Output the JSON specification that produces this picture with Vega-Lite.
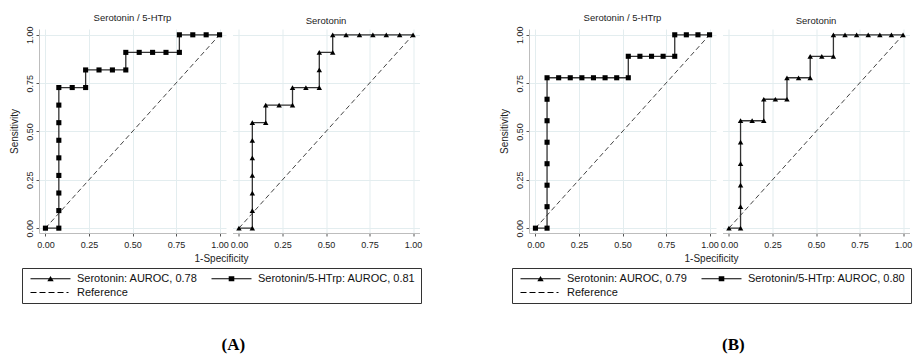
{
  "$schema": "https://vega.github.io/schema/vega-lite/v6.json",
  "background": "white",
  "padding": {"left": 9, "top": 12, "right": 2, "bottom": 2},
  "config": {
    "font": "Liberation Sans",
    "view": {"stroke": null},
    "axis": {
      "labelFontSize": 9, "labelColor": "#222", "titleFontSize": 10, "titleColor": "#222", "titleFontWeight": "normal",
      "domainColor": "#bdbdbd", "tickColor": "#555", "tickSize": 3, "gridColor": "#e3edef", "gridWidth": 1,
      "labelPadding": 4
    },
    "title": {"fontSize": 9.5, "fontWeight": "normal", "color": "#222", "offset": 4},
    "legend": {
      "orient": "none", "direction": "horizontal", "columns": 2, "columnPadding": 10, "rowPadding": 2, "padding": 5,
      "strokeColor": "#333", "labelFontSize": 11, "labelColor": "#111", "labelOffset": 39,
      "symbolSize": 16, "labelLimit": 400, "title": null,
      "symbolStrokeColor": "#000", "symbolFillColor": "#000", "symbolStrokeWidth": 0, "symbolOpacity": 1
    }
  },
  "datasets": {
    "ref": [{"fpr": 0, "tpr": 0}, {"fpr": 1, "tpr": 1}],
    "legA": [{"entry": "Serotonin: AUROC, 0.78"}, {"entry": "Serotonin/5-HTrp: AUROC, 0.81"}, {"entry": "Reference"}],
    "legB": [{"entry": "Serotonin: AUROC, 0.79"}, {"entry": "Serotonin/5-HTrp: AUROC, 0.80"}, {"entry": "Reference"}],
    "roc": [
      {"panel": "A1", "fpr": 0, "tpr": 0},
      {"panel": "A1", "fpr": 0.0769, "tpr": 0},
      {"panel": "A1", "fpr": 0.0769, "tpr": 0.0909},
      {"panel": "A1", "fpr": 0.0769, "tpr": 0.1818},
      {"panel": "A1", "fpr": 0.0769, "tpr": 0.2727},
      {"panel": "A1", "fpr": 0.0769, "tpr": 0.3636},
      {"panel": "A1", "fpr": 0.0769, "tpr": 0.4545},
      {"panel": "A1", "fpr": 0.0769, "tpr": 0.5455},
      {"panel": "A1", "fpr": 0.0769, "tpr": 0.6364},
      {"panel": "A1", "fpr": 0.0769, "tpr": 0.7273},
      {"panel": "A1", "fpr": 0.1538, "tpr": 0.7273},
      {"panel": "A1", "fpr": 0.2308, "tpr": 0.7273},
      {"panel": "A1", "fpr": 0.2308, "tpr": 0.8182},
      {"panel": "A1", "fpr": 0.3077, "tpr": 0.8182},
      {"panel": "A1", "fpr": 0.3846, "tpr": 0.8182},
      {"panel": "A1", "fpr": 0.4615, "tpr": 0.8182},
      {"panel": "A1", "fpr": 0.4615, "tpr": 0.9091},
      {"panel": "A1", "fpr": 0.5385, "tpr": 0.9091},
      {"panel": "A1", "fpr": 0.6154, "tpr": 0.9091},
      {"panel": "A1", "fpr": 0.6923, "tpr": 0.9091},
      {"panel": "A1", "fpr": 0.7692, "tpr": 0.9091},
      {"panel": "A1", "fpr": 0.7692, "tpr": 1},
      {"panel": "A1", "fpr": 0.8462, "tpr": 1},
      {"panel": "A1", "fpr": 0.9231, "tpr": 1},
      {"panel": "A1", "fpr": 1, "tpr": 1},
      {"panel": "A2", "fpr": 0, "tpr": 0},
      {"panel": "A2", "fpr": 0.0769, "tpr": 0},
      {"panel": "A2", "fpr": 0.0769, "tpr": 0.0909},
      {"panel": "A2", "fpr": 0.0769, "tpr": 0.1818},
      {"panel": "A2", "fpr": 0.0769, "tpr": 0.2727},
      {"panel": "A2", "fpr": 0.0769, "tpr": 0.3636},
      {"panel": "A2", "fpr": 0.0769, "tpr": 0.4545},
      {"panel": "A2", "fpr": 0.0769, "tpr": 0.5455},
      {"panel": "A2", "fpr": 0.1538, "tpr": 0.5455},
      {"panel": "A2", "fpr": 0.1538, "tpr": 0.6364},
      {"panel": "A2", "fpr": 0.2308, "tpr": 0.6364},
      {"panel": "A2", "fpr": 0.3077, "tpr": 0.6364},
      {"panel": "A2", "fpr": 0.3077, "tpr": 0.7273},
      {"panel": "A2", "fpr": 0.3846, "tpr": 0.7273},
      {"panel": "A2", "fpr": 0.4615, "tpr": 0.7273},
      {"panel": "A2", "fpr": 0.4615, "tpr": 0.8182},
      {"panel": "A2", "fpr": 0.4615, "tpr": 0.9091},
      {"panel": "A2", "fpr": 0.5385, "tpr": 0.9091},
      {"panel": "A2", "fpr": 0.5385, "tpr": 1},
      {"panel": "A2", "fpr": 0.6154, "tpr": 1},
      {"panel": "A2", "fpr": 0.6923, "tpr": 1},
      {"panel": "A2", "fpr": 0.7692, "tpr": 1},
      {"panel": "A2", "fpr": 0.8462, "tpr": 1},
      {"panel": "A2", "fpr": 0.9231, "tpr": 1},
      {"panel": "A2", "fpr": 1, "tpr": 1},
      {"panel": "B1", "fpr": 0, "tpr": 0},
      {"panel": "B1", "fpr": 0.0667, "tpr": 0},
      {"panel": "B1", "fpr": 0.0667, "tpr": 0.1111},
      {"panel": "B1", "fpr": 0.0667, "tpr": 0.2222},
      {"panel": "B1", "fpr": 0.0667, "tpr": 0.3333},
      {"panel": "B1", "fpr": 0.0667, "tpr": 0.4444},
      {"panel": "B1", "fpr": 0.0667, "tpr": 0.5556},
      {"panel": "B1", "fpr": 0.0667, "tpr": 0.6667},
      {"panel": "B1", "fpr": 0.0667, "tpr": 0.7778},
      {"panel": "B1", "fpr": 0.1333, "tpr": 0.7778},
      {"panel": "B1", "fpr": 0.2, "tpr": 0.7778},
      {"panel": "B1", "fpr": 0.2667, "tpr": 0.7778},
      {"panel": "B1", "fpr": 0.3333, "tpr": 0.7778},
      {"panel": "B1", "fpr": 0.4, "tpr": 0.7778},
      {"panel": "B1", "fpr": 0.4667, "tpr": 0.7778},
      {"panel": "B1", "fpr": 0.5333, "tpr": 0.7778},
      {"panel": "B1", "fpr": 0.5333, "tpr": 0.8889},
      {"panel": "B1", "fpr": 0.6, "tpr": 0.8889},
      {"panel": "B1", "fpr": 0.6667, "tpr": 0.8889},
      {"panel": "B1", "fpr": 0.7333, "tpr": 0.8889},
      {"panel": "B1", "fpr": 0.8, "tpr": 0.8889},
      {"panel": "B1", "fpr": 0.8, "tpr": 1},
      {"panel": "B1", "fpr": 0.8667, "tpr": 1},
      {"panel": "B1", "fpr": 0.9333, "tpr": 1},
      {"panel": "B1", "fpr": 1, "tpr": 1},
      {"panel": "B2", "fpr": 0, "tpr": 0},
      {"panel": "B2", "fpr": 0.0667, "tpr": 0},
      {"panel": "B2", "fpr": 0.0667, "tpr": 0.1111},
      {"panel": "B2", "fpr": 0.0667, "tpr": 0.2222},
      {"panel": "B2", "fpr": 0.0667, "tpr": 0.3333},
      {"panel": "B2", "fpr": 0.0667, "tpr": 0.4444},
      {"panel": "B2", "fpr": 0.0667, "tpr": 0.5556},
      {"panel": "B2", "fpr": 0.1333, "tpr": 0.5556},
      {"panel": "B2", "fpr": 0.2, "tpr": 0.5556},
      {"panel": "B2", "fpr": 0.2, "tpr": 0.6667},
      {"panel": "B2", "fpr": 0.2667, "tpr": 0.6667},
      {"panel": "B2", "fpr": 0.3333, "tpr": 0.6667},
      {"panel": "B2", "fpr": 0.3333, "tpr": 0.7778},
      {"panel": "B2", "fpr": 0.4, "tpr": 0.7778},
      {"panel": "B2", "fpr": 0.4667, "tpr": 0.7778},
      {"panel": "B2", "fpr": 0.4667, "tpr": 0.8889},
      {"panel": "B2", "fpr": 0.5333, "tpr": 0.8889},
      {"panel": "B2", "fpr": 0.6, "tpr": 0.8889},
      {"panel": "B2", "fpr": 0.6, "tpr": 1},
      {"panel": "B2", "fpr": 0.6667, "tpr": 1},
      {"panel": "B2", "fpr": 0.7333, "tpr": 1},
      {"panel": "B2", "fpr": 0.8, "tpr": 1},
      {"panel": "B2", "fpr": 0.8667, "tpr": 1},
      {"panel": "B2", "fpr": 0.9333, "tpr": 1},
      {"panel": "B2", "fpr": 1, "tpr": 1}
    ]
  },
  "resolve": {"scale": {"x": "independent", "y": "independent", "shape": "independent"}},
  "spacing": 77,
  "hconcat": [
    {
      "title": {"text": "(A)", "orient": "bottom", "font": "Liberation Serif", "fontSize": 17, "fontWeight": "bold", "color": "#000", "offset": 33, "anchor": "middle", "dx": 18},
      "bounds": "flush",
      "spacing": 6.5,
      "resolve": {"scale": {"x": "independent", "y": "independent"}},
      "hconcat": [
        {
          "width": 187, "height": 204,
          "title": "Serotonin / 5-HTrp",
          "layer": [
            {
              "data": {"name": "ref"},
              "mark": {"type": "line", "strokeDash": [5, 3], "color": "#444", "strokeWidth": 1},
              "encoding": {
                "x": {"field": "fpr", "type": "quantitative", "scale": {"domain": [-0.037, 1.037], "nice": false, "zero": false},
                  "axis": {"values": [0, 0.25, 0.5, 0.75, 1], "format": ".2f", "title": "1-Specificity", "titleX": 182, "titlePadding": 4}},
                "y": {"field": "tpr", "type": "quantitative", "scale": {"domain": [-0.025, 1.03], "nice": false, "zero": false},
                  "axis": {"values": [0, 0.25, 0.5, 0.75, 1], "format": ".2f", "title": "Sensitivity", "labelAngle": -90, "labelPadding": 2, "titlePadding": 6}}
              }
            },
            {
              "data": {"name": "roc"},
              "transform": [{"filter": "datum.panel === 'A1'"}],
              "mark": {"type": "line", "color": "#333", "strokeWidth": 1.3},
              "encoding": {
                "x": {"field": "fpr", "type": "quantitative"},
                "y": {"field": "tpr", "type": "quantitative"},
                "order": [{"field": "fpr"}, {"field": "tpr"}]
              }
            },
            {
              "data": {"name": "roc"},
              "transform": [{"filter": "datum.panel === 'A1'"}],
              "mark": {"type": "point", "shape": "square", "filled": true, "color": "#000", "size": 26, "opacity": 1},
              "encoding": {
                "x": {"field": "fpr", "type": "quantitative"},
                "y": {"field": "tpr", "type": "quantitative"}
              }
            },
            {
              "data": {"name": "legA"},
              "mark": {"type": "point", "filled": true, "color": "#000", "opacity": 0, "size": 16},
              "encoding": {
                "shape": {"field": "entry", "type": "nominal",
                  "scale": {"domain": ["Serotonin: AUROC, 0.78", "Serotonin/5-HTrp: AUROC, 0.81", "Reference"],
                    "range": ["M-1,-0.3H19V0.3H-1ZM9,-1.4L10.6,1.2L7.4,1.2Z", "M-1,-0.3H19V0.3H-1ZM7.6,-1.3H10.4V1.3H7.6Z", "M-1,-0.3H2V0.3H-1ZM3.5,-0.3H6.5V0.3H3.5ZM8,-0.3H11V0.3H8ZM12.5,-0.3H15.5V0.3H12.5ZM17,-0.3H18V0.3H17Z"]},
                  "legend": {"legendX": -17, "legendY": 239,
                    "encode": {"symbols": {"opacity": {"value": 1}, "fill": {"value": "#000"}}}}}
              }
            }
          ]
        },
        {
          "width": 187, "height": 204,
          "title": "Serotonin",
          "layer": [
            {
              "data": {"name": "ref"},
              "mark": {"type": "line", "strokeDash": [5, 3], "color": "#444", "strokeWidth": 1},
              "encoding": {
                "x": {"field": "fpr", "type": "quantitative", "scale": {"domain": [-0.037, 1.037], "nice": false, "zero": false},
                  "axis": {"values": [0, 0.25, 0.5, 0.75, 1], "format": ".2f", "title": null}},
                "y": {"field": "tpr", "type": "quantitative", "scale": {"domain": [-0.025, 1.03], "nice": false, "zero": false},
                  "axis": {"values": [0, 0.25, 0.5, 0.75, 1], "title": null, "labels": false, "ticks": false, "domain": false}}
              }
            },
            {
              "data": {"name": "roc"},
              "transform": [{"filter": "datum.panel === 'A2'"}],
              "mark": {"type": "line", "color": "#333", "strokeWidth": 1.3},
              "encoding": {
                "x": {"field": "fpr", "type": "quantitative"},
                "y": {"field": "tpr", "type": "quantitative"},
                "order": [{"field": "fpr"}, {"field": "tpr"}]
              }
            },
            {
              "data": {"name": "roc"},
              "transform": [{"filter": "datum.panel === 'A2'"}],
              "mark": {"type": "point", "shape": "triangle-up", "filled": true, "color": "#000", "size": 30, "opacity": 1},
              "encoding": {
                "x": {"field": "fpr", "type": "quantitative"},
                "y": {"field": "tpr", "type": "quantitative"}
              }
            }
          ]
        }
      ]
    },
    {
      "title": {"text": "(B)", "orient": "bottom", "font": "Liberation Serif", "fontSize": 17, "fontWeight": "bold", "color": "#000", "offset": 33, "anchor": "middle", "dx": 28},
      "bounds": "flush",
      "spacing": 6.5,
      "resolve": {"scale": {"x": "independent", "y": "independent"}},
      "hconcat": [
        {
          "width": 187, "height": 204,
          "title": "Serotonin / 5-HTrp",
          "layer": [
            {
              "data": {"name": "ref"},
              "mark": {"type": "line", "strokeDash": [5, 3], "color": "#444", "strokeWidth": 1},
              "encoding": {
                "x": {"field": "fpr", "type": "quantitative", "scale": {"domain": [-0.037, 1.037], "nice": false, "zero": false},
                  "axis": {"values": [0, 0.25, 0.5, 0.75, 1], "format": ".2f", "title": "1-Specificity", "titleX": 182, "titlePadding": 4}},
                "y": {"field": "tpr", "type": "quantitative", "scale": {"domain": [-0.025, 1.03], "nice": false, "zero": false},
                  "axis": {"values": [0, 0.25, 0.5, 0.75, 1], "format": ".2f", "title": "Sensitivity", "labelAngle": -90, "labelPadding": 2, "titlePadding": 6}}
              }
            },
            {
              "data": {"name": "roc"},
              "transform": [{"filter": "datum.panel === 'B1'"}],
              "mark": {"type": "line", "color": "#333", "strokeWidth": 1.3},
              "encoding": {
                "x": {"field": "fpr", "type": "quantitative"},
                "y": {"field": "tpr", "type": "quantitative"},
                "order": [{"field": "fpr"}, {"field": "tpr"}]
              }
            },
            {
              "data": {"name": "roc"},
              "transform": [{"filter": "datum.panel === 'B1'"}],
              "mark": {"type": "point", "shape": "square", "filled": true, "color": "#000", "size": 26, "opacity": 1},
              "encoding": {
                "x": {"field": "fpr", "type": "quantitative"},
                "y": {"field": "tpr", "type": "quantitative"}
              }
            },
            {
              "data": {"name": "legB"},
              "mark": {"type": "point", "filled": true, "color": "#000", "opacity": 0, "size": 16},
              "encoding": {
                "shape": {"field": "entry", "type": "nominal",
                  "scale": {"domain": ["Serotonin: AUROC, 0.79", "Serotonin/5-HTrp: AUROC, 0.80", "Reference"],
                    "range": ["M-1,-0.3H19V0.3H-1ZM9,-1.4L10.6,1.2L7.4,1.2Z", "M-1,-0.3H19V0.3H-1ZM7.6,-1.3H10.4V1.3H7.6Z", "M-1,-0.3H2V0.3H-1ZM3.5,-0.3H6.5V0.3H3.5ZM8,-0.3H11V0.3H8ZM12.5,-0.3H15.5V0.3H12.5ZM17,-0.3H18V0.3H17Z"]},
                  "legend": {"legendX": -17, "legendY": 239,
                    "encode": {"symbols": {"opacity": {"value": 1}, "fill": {"value": "#000"}}}}}
              }
            }
          ]
        },
        {
          "width": 187, "height": 204,
          "title": "Serotonin",
          "layer": [
            {
              "data": {"name": "ref"},
              "mark": {"type": "line", "strokeDash": [5, 3], "color": "#444", "strokeWidth": 1},
              "encoding": {
                "x": {"field": "fpr", "type": "quantitative", "scale": {"domain": [-0.037, 1.037], "nice": false, "zero": false},
                  "axis": {"values": [0, 0.25, 0.5, 0.75, 1], "format": ".2f", "title": null}},
                "y": {"field": "tpr", "type": "quantitative", "scale": {"domain": [-0.025, 1.03], "nice": false, "zero": false},
                  "axis": {"values": [0, 0.25, 0.5, 0.75, 1], "title": null, "labels": false, "ticks": false, "domain": false}}
              }
            },
            {
              "data": {"name": "roc"},
              "transform": [{"filter": "datum.panel === 'B2'"}],
              "mark": {"type": "line", "color": "#333", "strokeWidth": 1.3},
              "encoding": {
                "x": {"field": "fpr", "type": "quantitative"},
                "y": {"field": "tpr", "type": "quantitative"},
                "order": [{"field": "fpr"}, {"field": "tpr"}]
              }
            },
            {
              "data": {"name": "roc"},
              "transform": [{"filter": "datum.panel === 'B2'"}],
              "mark": {"type": "point", "shape": "triangle-up", "filled": true, "color": "#000", "size": 30, "opacity": 1},
              "encoding": {
                "x": {"field": "fpr", "type": "quantitative"},
                "y": {"field": "tpr", "type": "quantitative"}
              }
            }
          ]
        }
      ]
    }
  ]
}
